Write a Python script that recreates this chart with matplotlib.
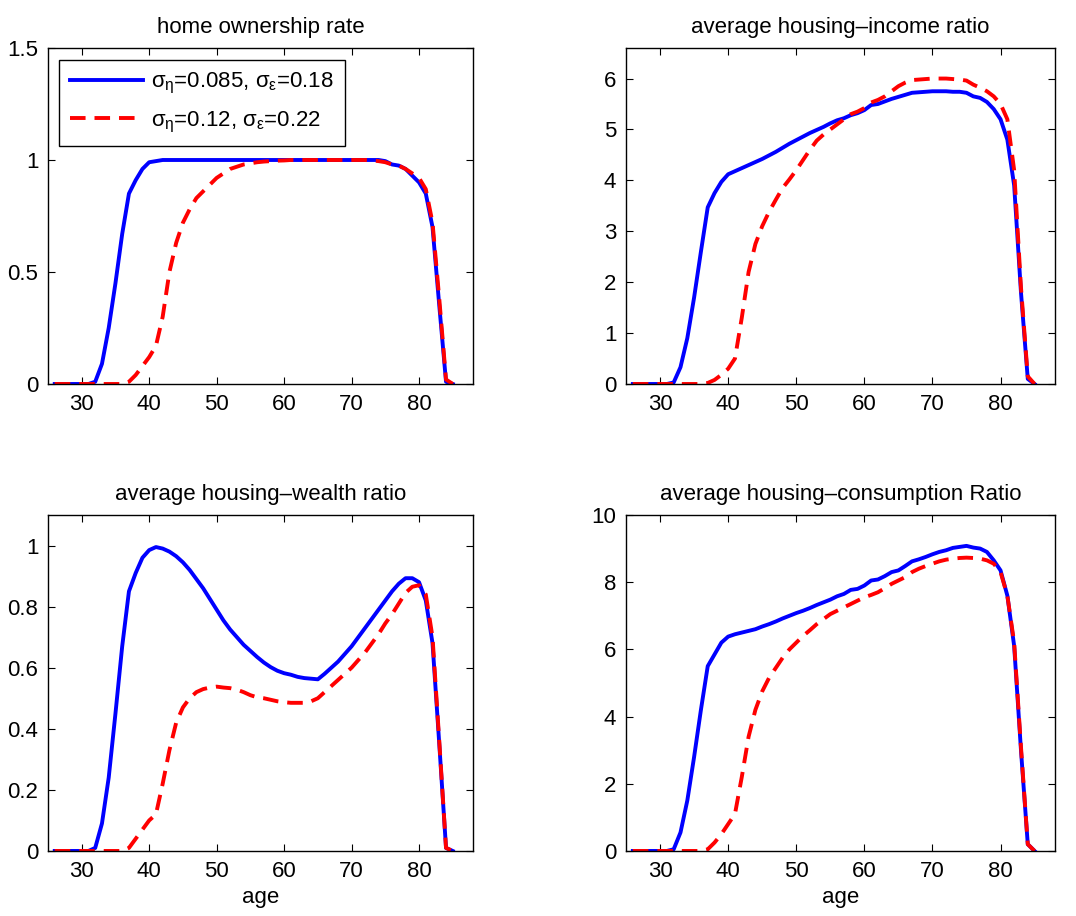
import numpy as np
import matplotlib
matplotlib.use("Agg")
import matplotlib.pyplot as plt

plt.rcParams["font.family"] = ["Liberation Sans", "DejaVu Sans"]
plt.rcParams["mathtext.fontset"] = "custom"
plt.rcParams["mathtext.rm"] = "Liberation Sans"
plt.rcParams["mathtext.it"] = "Liberation Sans"

# ages 26..85
age = np.arange(26, 86)

own_a = [0, 0, 0, 0, 0, 0, 0.01, 0.09, 0.25, 0.45, 0.67, 0.85, 0.91, 0.96, 0.99,
         0.995, 1.0, 1.0, 1.0, 1.0, 1.0, 1.0, 1.0, 1.0, 1.0, 1.0, 1.0, 1.0, 1.0, 1.0,
         1.0, 1.0, 1.0, 1.0, 1.0, 1.0, 1.0, 1.0, 1.0, 1.0, 1.0, 1.0, 1.0, 1.0, 1.0,
         1.0, 1.0, 1.0, 1.0, 0.995, 0.98, 0.975, 0.96, 0.93, 0.9, 0.85, 0.7, 0.35, 0.01, 0.0]
own_b = [0, 0, 0, 0, 0, 0, 0, 0, 0, 0, 0, 0.01, 0.04, 0.08, 0.12,
         0.17, 0.3, 0.5, 0.63, 0.72, 0.78, 0.83, 0.86, 0.89, 0.92, 0.94, 0.96, 0.97, 0.98, 0.985,
         0.99, 0.993, 0.995, 0.997, 0.998, 1.0, 1.0, 1.0, 1.0, 1.0, 1.0, 1.0, 1.0, 1.0, 1.0,
         1.0, 1.0, 0.998, 0.995, 0.99, 0.98, 0.975, 0.96, 0.94, 0.92, 0.87, 0.72, 0.38, 0.02, 0.0]

inc_a = [0, 0, 0, 0, 0, 0, 0.03, 0.33, 0.9, 1.7, 2.6, 3.47, 3.75, 3.97, 4.12,
         4.18, 4.24, 4.3, 4.36, 4.42, 4.49, 4.56, 4.64, 4.72, 4.79, 4.86, 4.93, 4.99, 5.05, 5.12,
         5.18, 5.22, 5.28, 5.32, 5.38, 5.48, 5.5, 5.55, 5.6, 5.64, 5.68, 5.72, 5.73, 5.74, 5.75,
         5.75, 5.75, 5.74, 5.74, 5.72, 5.65, 5.62, 5.54, 5.4, 5.2, 4.8, 3.9, 1.8, 0.1, 0.0]
inc_b = [0, 0, 0, 0, 0, 0, 0, 0, 0, 0, 0, 0.02, 0.08, 0.18, 0.3,
         0.5, 1.3, 2.2, 2.75, 3.1, 3.38, 3.62, 3.85, 4.02, 4.2, 4.4, 4.6, 4.78, 4.9, 5.0,
         5.1, 5.2, 5.3, 5.35, 5.42, 5.53, 5.58, 5.65, 5.75, 5.85, 5.92, 5.97, 5.98, 5.99, 6.0,
         6.0, 6.0, 5.99, 5.98, 5.96, 5.88, 5.82, 5.75, 5.65, 5.5, 5.2, 4.2, 1.9, 0.15, 0.0]

wlt_a = [0, 0, 0, 0, 0, 0, 0.01, 0.09, 0.24, 0.45, 0.67, 0.85, 0.91, 0.96, 0.985,
         0.995, 0.99, 0.98, 0.965, 0.945, 0.92, 0.89, 0.86, 0.825, 0.79, 0.755, 0.725, 0.7, 0.675, 0.655,
         0.635, 0.617, 0.602, 0.59, 0.582, 0.577, 0.57, 0.566, 0.564, 0.562, 0.58, 0.6, 0.62, 0.645, 0.67,
         0.7, 0.73, 0.76, 0.79, 0.82, 0.85, 0.875, 0.893, 0.893, 0.88, 0.82, 0.68, 0.35, 0.01, 0.0]
wlt_b = [0, 0, 0, 0, 0, 0, 0, 0, 0, 0, 0, 0.01, 0.04, 0.07, 0.1,
         0.12, 0.22, 0.33, 0.42, 0.47, 0.5, 0.52, 0.53, 0.535, 0.538, 0.535, 0.533, 0.528, 0.52, 0.51,
         0.503, 0.5, 0.495, 0.49, 0.487, 0.485, 0.485, 0.485, 0.49, 0.5, 0.52, 0.54, 0.56, 0.58, 0.6,
         0.625, 0.65, 0.68, 0.71, 0.745, 0.775, 0.81, 0.845, 0.865, 0.87, 0.84, 0.7, 0.36, 0.01, 0.0]

con_a = [0, 0, 0, 0, 0, 0, 0.05, 0.55, 1.5, 2.8, 4.2, 5.5, 5.85, 6.2, 6.38,
         6.45, 6.5, 6.55, 6.6, 6.68, 6.75, 6.83, 6.92, 7.0, 7.08, 7.15, 7.23, 7.32, 7.4, 7.48,
         7.58, 7.65, 7.77, 7.8, 7.9, 8.05, 8.08, 8.18, 8.3, 8.35, 8.48, 8.62, 8.68, 8.75, 8.83,
         8.9, 8.95, 9.02, 9.05, 9.08, 9.03, 9.0, 8.9, 8.65, 8.35, 7.6, 6.1, 3.0, 0.2, 0.0]
con_b = [0, 0, 0, 0, 0, 0, 0, 0, 0, 0, 0, 0.05, 0.25, 0.5, 0.8,
         1.1, 2.2, 3.4, 4.2, 4.75, 5.15, 5.45, 5.75, 6.0, 6.2, 6.4, 6.57, 6.75, 6.9, 7.05,
         7.15, 7.25, 7.35, 7.45, 7.55, 7.62, 7.7, 7.82, 7.95, 8.05, 8.15, 8.3, 8.4, 8.48, 8.55,
         8.62, 8.67, 8.7, 8.72, 8.73, 8.72, 8.7, 8.65, 8.55, 8.3, 7.6, 6.2, 3.1, 0.2, 0.0]

label_a = r"$\sigma_{\eta}$=0.085, $\sigma_{\varepsilon}$=0.18"
label_b = r"$\sigma_{\eta}$=0.12, $\sigma_{\varepsilon}$=0.22"

fig = plt.figure(figsize=(10.76, 9.16), dpi=100)

panels = [
    ([0.0446, 0.5808, 0.395, 0.3668], own_a, own_b, "home ownership rate", (0, 1.5), [0, 0.5, 1, 1.5], False),
    ([0.5818, 0.5808, 0.3987, 0.3668], inc_a, inc_b, "average housing\u2013income ratio", (0, 6.6), range(0, 7), False),
    ([0.0446, 0.071, 0.395, 0.3668], wlt_a, wlt_b, "average housing\u2013wealth ratio", (0, 1.1), [0, 0.2, 0.4, 0.6, 0.8, 1], True),
    ([0.5818, 0.071, 0.3987, 0.3668], con_a, con_b, "average housing\u2013consumption Ratio", (0, 10), range(0, 11, 2), True),
]

for i, (rect, ya, yb, title, ylim, yticks, xlab) in enumerate(panels):
    ax = fig.add_axes(rect)
    ax.plot(age, ya, color="#0000ff", lw=2.8, label=label_a)
    ax.plot(age, yb, color="#ff0000", lw=2.8, dashes=(4, 2.3), label=label_b)
    ax.set_xlim(25, 88)
    ax.set_ylim(*ylim)
    ax.set_xticks([30, 40, 50, 60, 70, 80])
    ax.set_yticks(list(yticks))
    ax.set_yticklabels([f"{v:g}" for v in yticks])
    ax.tick_params(direction="in", top=True, right=True, labelsize=16, length=5, width=0.8, pad=7)
    for s in ax.spines.values():
        s.set_linewidth(1.0)
    ax.set_title(title, fontsize=16, pad=11)
    if xlab:
        ax.set_xlabel("age", fontsize=16, labelpad=4)
    if i == 0:
        ax.legend(loc="upper left", bbox_to_anchor=(0.026, 0.964), borderaxespad=0,
                  fontsize=16, handlelength=3.3, handletextpad=0.35, fancybox=False,
                  edgecolor="black", framealpha=1, borderpad=0.5, labelspacing=0.6)
        ax.get_legend().get_frame().set_linewidth(1.0)

fig.savefig("out.png", dpi=100)
